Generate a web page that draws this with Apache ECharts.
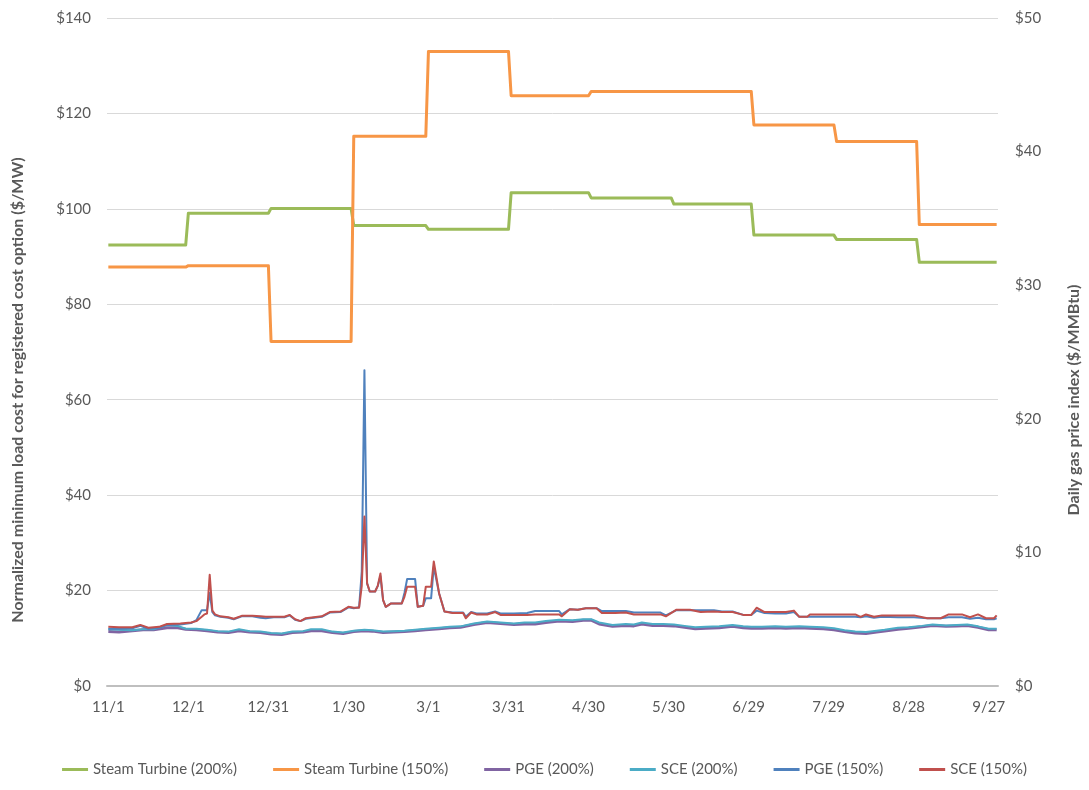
<!DOCTYPE html>
<html>
<head>
<meta charset="utf-8">
<script src="https://cdn.jsdelivr.net/npm/echarts@6/dist/echarts.min.js"></script>
<style>
html,body{margin:0;padding:0;background:#fff;}
#chart{width:1089px;height:790px;}
</style>
</head>
<body>
<div id="chart"></div>
<script>
// ---- data ----
const startDate = [2013, 10, 1]; // 11/1
const dayCount = 334;            // 11/1 .. 9/30
const tickStep = 30;             // labels 11/1, 12/1, 12/31, ...

// month-start day indices for the monthly steam turbine values
const stepStarts = [0, 30, 61, 92, 120, 151, 181, 212, 242, 273, 304];
const steam200 = [92.4, 99.1, 100.1, 96.5, 95.7, 103.4, 102.3, 101.0, 94.5, 93.6, 88.8];
const steam150 = [87.8, 88.1, 72.2, 115.2, 133.0, 123.7, 124.6, 124.6, 117.6, 114.1, 96.7];

// [day index, value]
const sce200 = [[0,11.9],[4,11.8],[9,11.7],[13,11.9],[17,11.9],[22,12.8],[26,12.6],[29,12.0],[33,12.0],[37,11.8],[41,11.5],[45,11.4],[49,11.9],[53,11.5],[57,11.4],[61,11.1],[65,11.0],[69,11.4],[73,11.5],[76,11.9],[80,11.9],[84,11.4],[88,11.2],[92,11.6],[96,11.8],[99,11.7],[103,11.4],[107,11.5],[111,11.6],[115,11.8],[119,12.0],[124,12.2],[128,12.4],[132,12.5],[137,13.1],[142,13.5],[147,13.3],[152,13.1],[156,13.3],[160,13.3],[164,13.6],[169,13.9],[174,13.8],[178,14.0],[181,14.0],[184,13.3],[189,12.8],[194,13.0],[197,12.9],[200,13.3],[204,13.0],[208,13.0],[212,12.9],[216,12.6],[220,12.3],[224,12.4],[229,12.5],[234,12.8],[238,12.5],[241,12.4],[245,12.4],[250,12.5],[254,12.4],[259,12.5],[263,12.4],[268,12.3],[272,12.1],[276,11.7],[280,11.4],[284,11.3],[288,11.6],[291,11.8],[296,12.2],[300,12.3],[305,12.6],[309,12.9],[314,12.7],[318,12.8],[322,12.9],[326,12.5],[330,12.0],[333,12.0]];
const pge200 = [[0,11.4],[4,11.3],[9,11.6],[13,11.8],[17,11.8],[22,12.2],[26,12.2],[29,11.9],[33,11.8],[37,11.6],[41,11.3],[45,11.2],[49,11.6],[53,11.3],[57,11.2],[61,10.9],[65,10.8],[69,11.2],[73,11.3],[76,11.6],[80,11.6],[84,11.2],[88,11.0],[92,11.4],[96,11.6],[99,11.5],[103,11.2],[107,11.3],[111,11.4],[115,11.6],[119,11.8],[124,12.0],[128,12.2],[132,12.3],[137,12.9],[142,13.3],[147,13.1],[152,12.9],[156,13.0],[160,13.0],[164,13.3],[169,13.6],[174,13.5],[178,13.8],[181,13.8],[184,13.0],[189,12.5],[194,12.7],[197,12.6],[200,13.0],[204,12.7],[208,12.7],[212,12.6],[216,12.3],[220,12.0],[224,12.1],[229,12.2],[234,12.5],[238,12.2],[241,12.1],[245,12.1],[250,12.2],[254,12.1],[259,12.2],[263,12.1],[268,12.0],[272,11.8],[276,11.4],[280,11.1],[284,11.0],[288,11.3],[291,11.5],[296,11.9],[300,12.1],[305,12.4],[309,12.7],[314,12.5],[318,12.6],[322,12.7],[326,12.3],[330,11.8],[333,11.8]];
const sce150 = [[0,12.4],[4,12.3],[9,12.3],[12,12.8],[15,12.2],[19,12.4],[22,13.0],[27,13.1],[31,13.3],[33,13.6],[35,14.5],[36,15.0],[37,15.2],[38,23.3],[39,15.8],[40,15.0],[42,14.6],[45,14.4],[47,14.1],[50,14.7],[54,14.7],[57,14.6],[59,14.5],[62,14.5],[66,14.5],[68,14.9],[70,14.0],[72,13.6],[74,14.2],[77,14.4],[80,14.6],[83,15.5],[87,15.6],[90,16.6],[92,16.4],[94,16.4],[95,21.0],[96,35.5],[97,21.5],[98,19.8],[100,19.8],[101,21.0],[102,23.6],[103,18.0],[104,16.6],[106,17.3],[110,17.3],[111,18.7],[112,20.8],[115,20.8],[116,16.6],[118,16.8],[119,20.8],[121,20.8],[122,26.1],[124,19.4],[126,15.6],[129,15.3],[133,15.3],[134,14.2],[136,15.4],[138,15.0],[142,15.0],[145,15.5],[147,14.9],[152,14.9],[157,14.9],[160,15.0],[165,15.0],[169,15.0],[170,14.6],[173,16.1],[176,16.0],[179,16.3],[183,16.3],[185,15.3],[190,15.3],[194,15.4],[197,15.0],[202,15.0],[207,15.0],[209,14.6],[213,16.0],[218,16.0],[222,15.5],[227,15.6],[230,15.5],[234,15.5],[238,14.9],[241,14.9],[243,16.4],[246,15.5],[250,15.5],[254,15.5],[257,15.8],[259,14.5],[262,14.5],[263,15.0],[270,15.0],[280,15.0],[282,14.5],[284,15.0],[287,14.5],[290,14.8],[296,14.8],[302,14.8],[307,14.2],[312,14.2],[315,15.0],[320,15.0],[323,14.4],[326,15.0],[329,14.2],[332,14.2],[333,14.8]];
const pge150 = [[0,12.0],[4,12.0],[9,12.1],[12,12.6],[15,12.0],[19,12.2],[22,12.8],[27,12.9],[31,13.2],[33,13.8],[35,15.9],[37,15.9],[38,19.5],[39,15.5],[40,14.8],[42,14.5],[45,14.3],[47,14.0],[50,14.6],[54,14.6],[57,14.3],[59,14.2],[62,14.4],[66,14.4],[68,14.8],[70,13.9],[72,13.6],[74,14.1],[77,14.3],[80,14.5],[83,15.4],[87,15.5],[90,16.5],[92,16.3],[94,16.5],[95,24.0],[96,66.2],[97,21.5],[98,19.8],[100,19.8],[101,21.0],[102,23.0],[103,18.0],[104,16.6],[106,17.3],[110,17.3],[111,19.5],[112,22.4],[115,22.4],[116,16.6],[118,16.8],[119,18.4],[121,18.4],[122,25.0],[124,19.4],[126,15.6],[129,15.4],[133,15.4],[134,14.5],[136,15.5],[138,15.2],[142,15.2],[145,15.6],[147,15.2],[152,15.2],[157,15.3],[160,15.7],[165,15.7],[169,15.7],[170,15.0],[173,16.1],[176,16.0],[179,16.3],[183,16.3],[185,15.7],[190,15.7],[194,15.7],[197,15.4],[202,15.4],[207,15.4],[209,14.8],[213,15.9],[218,15.9],[222,15.9],[227,15.9],[230,15.6],[234,15.6],[238,14.9],[241,14.9],[243,15.8],[246,15.3],[250,15.2],[254,15.2],[257,15.5],[259,14.5],[262,14.5],[263,14.5],[270,14.5],[280,14.5],[282,14.4],[284,14.6],[287,14.3],[290,14.5],[296,14.4],[302,14.4],[307,14.2],[312,14.2],[315,14.4],[320,14.4],[323,14.1],[326,14.3],[329,14.0],[332,14.0],[333,14.2]];

const leftTicks = {min: 0, max: 140, interval: 20};
const rightTicks = {min: 0, max: 50, interval: 10};

// ---- build ----
const categories = [];
for (let i = 0; i < dayCount; i++) {
  const d = new Date(startDate[0], startDate[1], startDate[2] + i);
  categories.push((d.getMonth() + 1) + '/' + d.getDate());
}
function stepData(starts, vals) {
  const out = [];
  for (let i = 0; i < starts.length; i++) {
    const s = starts[i];
    const e = (i + 1 < starts.length ? starts[i + 1] : dayCount) - 1;
    out.push([s, vals[i]]);
    out.push([e, vals[i]]);
  }
  return out;
}

const FONT = 'Lato, "Open Sans", sans-serif';
const TXT = '#595959';

function lineSeries(name, data, color, width) {
  return {
    name: name, type: 'line', data: data, showSymbol: false, symbol: 'none',
    lineStyle: {color: color, width: width, join: 'round'},
    itemStyle: {color: color}, animation: false
  };
}

const chart = echarts.init(document.getElementById('chart'), null, {renderer: 'canvas'});
chart.setOption({
  backgroundColor: '#ffffff',
  animation: false,
  textStyle: {fontFamily: FONT},
  grid: {left: 107, right: 91, top: 18, bottom: 104, containLabel: false},
  legend: {
    bottom: 8, left: 'center', icon: 'rect', itemWidth: 26, itemHeight: 3, itemGap: 36,
    textStyle: {color: TXT, fontSize: 15, fontFamily: FONT},
    data: ['Steam Turbine (200%)', 'Steam Turbine (150%)', 'PGE (200%)', 'SCE (200%)', 'PGE (150%)', 'SCE (150%)']
  },
  xAxis: {
    type: 'category', data: categories, boundaryGap: true,
    axisLine: {lineStyle: {color: '#BFBFBF', width: 2}},
    axisTick: {show: false},
    axisLabel: {interval: tickStep - 1, color: TXT, fontSize: 15, margin: 14, fontFamily: FONT},
    splitLine: {show: false}
  },
  yAxis: [
    {
      type: 'value', min: leftTicks.min, max: leftTicks.max, interval: leftTicks.interval,
      axisLine: {show: false}, axisTick: {show: false},
      axisLabel: {color: TXT, fontSize: 15, margin: 16, formatter: v => '$' + v, fontFamily: FONT},
      splitLine: {lineStyle: {color: '#D9D9D9', width: 1}}
    },
    {
      type: 'value', position: 'right', min: rightTicks.min, max: rightTicks.max, interval: rightTicks.interval,
      axisLine: {show: false}, axisTick: {show: false},
      axisLabel: {color: TXT, fontSize: 15, margin: 17, formatter: v => '$' + v, fontFamily: FONT},
      splitLine: {show: false}
    }
  ],
  graphic: [
    {type: 'text', x: 18, y: 390, rotation: Math.PI / 2,
     style: {text: 'Normalized minimum load cost for registered cost option ($/MW)', fill: TXT,
             font: 'bold 16px ' + FONT, align: 'center', verticalAlign: 'middle'}},
    {type: 'text', x: 1074, y: 400, rotation: Math.PI / 2,
     style: {text: 'Daily gas price index ($/MMBtu)', fill: TXT,
             font: 'bold 16px ' + FONT, align: 'center', verticalAlign: 'middle'}}
  ],
  series: [
    lineSeries('Steam Turbine (200%)', stepData(stepStarts, steam200), '#9BBB59', 3),
    lineSeries('Steam Turbine (150%)', stepData(stepStarts, steam150), '#F79646', 3),
    lineSeries('PGE (200%)', pge200, '#8064A2', 3),
    lineSeries('SCE (200%)', sce200, '#4BACC6', 2),
    lineSeries('PGE (150%)', pge150, '#4F81BD', 2),
    lineSeries('SCE (150%)', sce150, '#C0504D', 2)
  ]
});
</script>
</body>
</html>
